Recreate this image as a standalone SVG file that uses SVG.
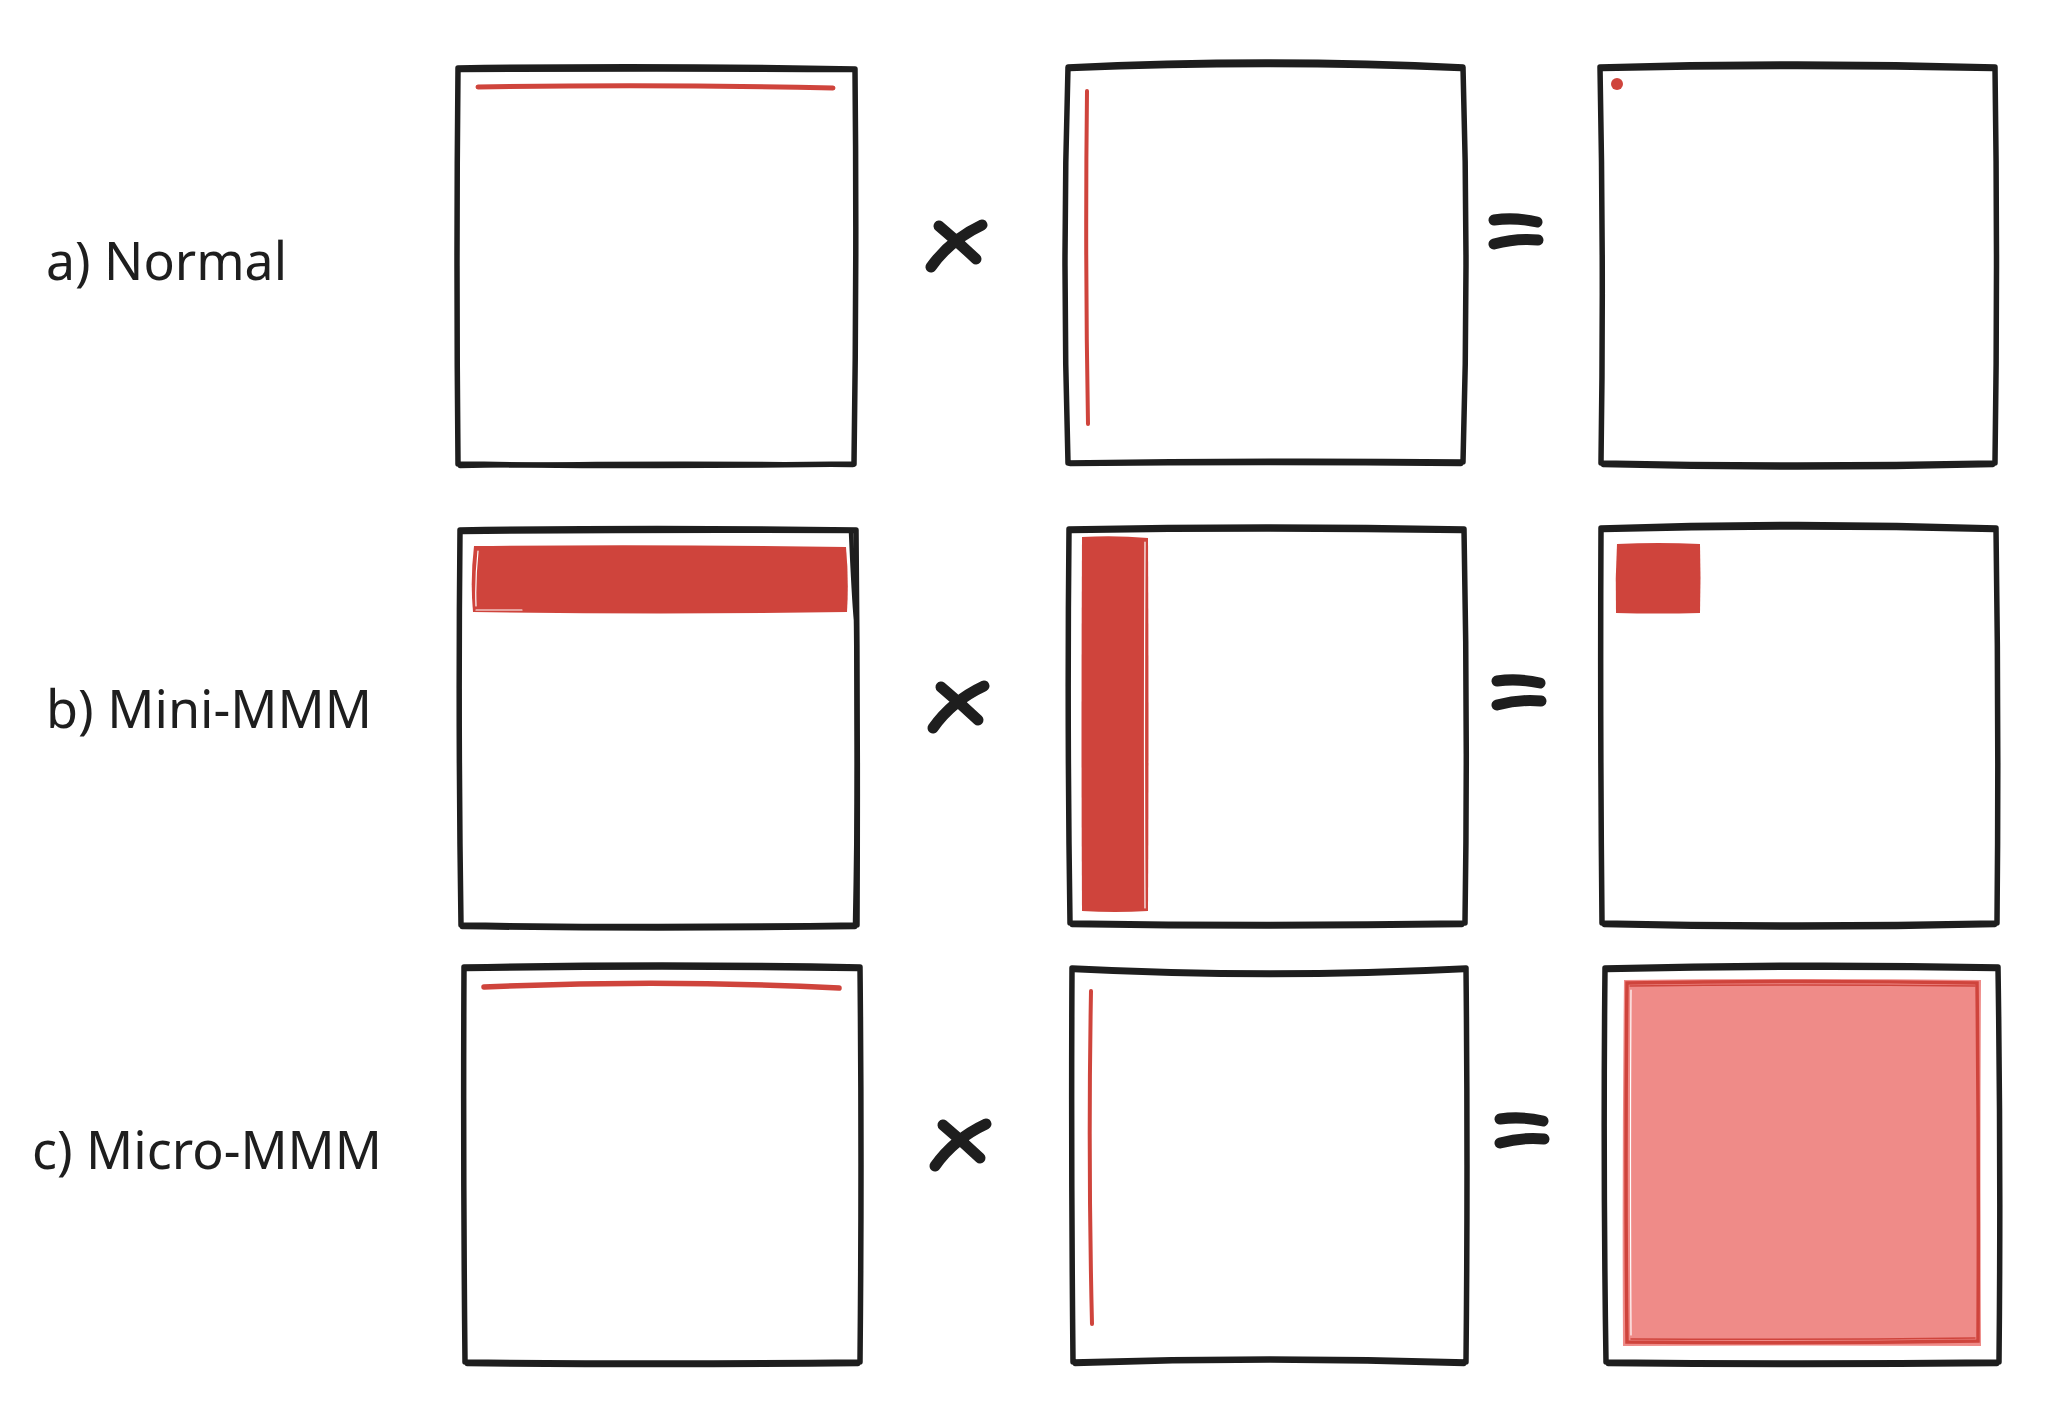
<svg xmlns="http://www.w3.org/2000/svg" width="2068" height="1428" viewBox="0 0 2068 1428">
<style>
.bx{fill:none;stroke:#1e1e1e;stroke-width:5.5;stroke-linejoin:round;stroke-linecap:round}
.bx2{fill:none;stroke:#1e1e1e;stroke-width:4.5;stroke-linejoin:round;stroke-linecap:round}
.op{fill:none;stroke:#1e1e1e;stroke-width:11;stroke-linecap:round;stroke-linejoin:round}
.rl{fill:none;stroke:#cf443c;stroke-linecap:round}
.rf{fill:#cf443c}
.wl{fill:none;stroke:#ffffff;stroke-width:1.2;stroke-linecap:round}
.lbl{font-family:"Noto Sans","Open Sans","DejaVu Sans",sans-serif;font-size:52px;fill:#1e1e1e}
</style>
<rect width="2068" height="1428" fill="#ffffff"/>

<g id="labels">
<text class="lbl" x="46" y="280" textLength="241" lengthAdjust="spacingAndGlyphs">a) Normal</text>
<text class="lbl" x="46" y="728" textLength="326" lengthAdjust="spacingAndGlyphs">b) Mini-MMM</text>
<text class="lbl" x="32" y="1169" textLength="350" lengthAdjust="spacingAndGlyphs">c) Micro-MMM</text>
</g>

<!-- Row a -->
<g id="a1">
<path class="bx" d="M458,68 Q656,65 855,69 Q857,266 854,464 Q656,467 458,464 Q456,266 458,68 Z"/>
<path class="bx2" d="M460,70 Q656,69 853,70 M853,465 Q656,462 460,466"/>
<path class="rl" stroke-width="5" d="M478,87 Q655,84 833,88"/>
</g>
<g id="a2">
<path class="bx" d="M1068,67 Q1266,57 1463,67 Q1469,266 1463,462 Q1266,460 1068,463 Q1062,266 1068,67 Z"/>
<path class="bx2" d="M1070,69 Q1266,61 1461,69 M1461,464 Q1266,462 1070,464"/>
<path class="rl" stroke-width="4" d="M1087,91 Q1085,258 1088,424"/>
</g>
<g id="a3">
<path class="bx" d="M1600,67 Q1797,61 1995,67 Q1998,266 1995,463 Q1797,467 1601,463 Q1604,266 1600,67 Z"/>
<path class="bx2" d="M1602,69 Q1797,65 1993,69 M1993,465 Q1797,470 1603,465"/>
<circle cx="1617" cy="84" r="6" fill="#cf443c"/>
</g>

<!-- Row b -->
<g id="b1">
<path class="bx" d="M460,530 Q657,527 856,530 Q858,728 857,925 Q657,928 461,925 Q458,728 460,530 Z"/>
<path class="bx2" d="M462,532 Q657,530 854,531 M855,927 Q657,930 462,927"/>
<path class="bx2" stroke-width="3" d="M851,532 Q854,600 856,620 Q858,780 855,924"/>
<path class="rf" d="M474,546 Q660,544 846,547 Q849,580 847,612 Q660,615 473,612 Q470,580 474,546 Z"/>
<path class="wl" d="M478,551 Q475,580 476,606 M476,610 Q500,610 522,610"/>
</g>
<g id="b2">
<path class="bx" d="M1069,529 Q1266,525 1464,529 Q1468,726 1465,923 Q1266,926 1070,923 Q1067,726 1069,529 Z"/>
<path class="bx2" d="M1071,531 Q1266,528 1462,531 M1462,925 Q1266,928 1072,925"/>
<path class="rf" d="M1082,537 Q1115,535 1148,538 Q1149,725 1148,911 Q1115,913 1082,911 Q1081,725 1082,537 Z"/>
<path class="wl" d="M1145,542 Q1144,725 1145,908"/>
</g>
<g id="b3">
<path class="bx" d="M1601,528 Q1798,521 1996,528 Q1999,726 1997,923 Q1798,927 1602,923 Q1600,726 1601,528 Z"/>
<path class="bx2" d="M1603,530 Q1798,525 1994,530 M1995,925 Q1798,930 1604,925"/>
<path class="rf" d="M1617,544 Q1658,542 1700,544 Q1701,578 1700,613 Q1658,614 1616,613 Q1615,578 1617,544 Z"/>
</g>

<!-- Row c -->
<g id="c1">
<path class="bx" d="M464,967 Q662,963 860,967 Q862,1164 860,1362 Q662,1364 465,1362 Q463,1164 464,967 Z"/>
<path class="bx2" d="M466,969 Q662,966 858,969 M858,1364 Q662,1366 467,1364"/>
<path class="rl" stroke-width="5.5" d="M484,987 Q661,979 839,988"/>
</g>
<g id="c2">
<path class="bx" d="M1072,968 Q1270,978 1466,968 Q1468,1165 1466,1362 Q1270,1356 1073,1362 Q1071,1165 1072,968 Z"/>
<path class="bx2" d="M1074,970 Q1270,980 1464,970 M1464,1364 Q1270,1357 1075,1364"/>
<path class="rl" stroke-width="4" d="M1091,991 Q1088,1158 1092,1324"/>
</g>
<g id="c3">
<path class="bx" d="M1605,968 Q1802,963 1998,967 Q2001,1165 1999,1362 Q1802,1364 1606,1362 Q1603,1165 1605,968 Z"/>
<path class="bx2" d="M1607,970 Q1802,966 1996,969 M1997,1364 Q1802,1366 1608,1364"/>
<path d="M1624,980 Q1802,978 1981,980 Q1980,1163 1981,1346 Q1802,1345 1623,1346 Q1622,1163 1624,980 Z" fill="#ef8b88"/>
<path class="rl" stroke-width="3.5" d="M1627,983 Q1802,980 1977,983 Q1979,1162 1978,1341 Q1802,1344 1627,1342 Q1625,1162 1627,983 Z"/>
<path class="rl" stroke-width="1.5" d="M1630,986 Q1802,984 1975,986 M1631,1339 Q1802,1340 1975,1338"/>
<path class="wl" d="M1631,990 Q1630,1160 1631,1335"/>
</g>

<g id="operators">
<path class="op" d="M939,226 Q958,242 976,259 M982,225 Q950,240 931,267"/>
<path class="op" d="M941,687 Q960,703 978,720 M984,686 Q952,701 933,728"/>
<path class="op" d="M943,1125 Q962,1141 980,1158 M986,1124 Q954,1139 935,1166"/>
<path class="op" d="M1494,220 Q1515,217 1537,222 M1494,244 Q1516,238 1538,240"/>
<path class="op" d="M1497,681 Q1518,678 1540,683 M1497,705 Q1519,699 1541,701"/>
<path class="op" d="M1500,1119 Q1521,1116 1543,1121 M1500,1143 Q1522,1137 1544,1139"/>
</g>
</svg>
